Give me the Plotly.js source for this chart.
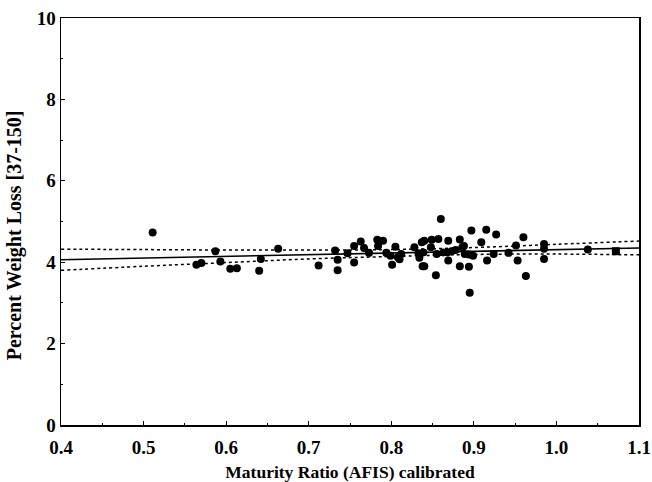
<!DOCTYPE html>
<html>
<head>
<meta charset="utf-8">
<script src="https://cdn.plot.ly/plotly-3.0.1.min.js"></script>
<style>html,body{margin:0;padding:0;background:#fff;}#chart{width:652px;height:482px;}</style>
</head>
<body>
<div id="chart"></div>
<script>
const maturity = [0.511,0.564,0.570,0.587,0.593,0.605,0.613,0.640,0.642,0.663,0.712,0.732,0.735,0.735,0.747,0.755,0.755,0.763,0.767,0.773,0.783,0.784,0.790,0.794,0.799,0.801,0.805,0.808,0.810,0.812,0.828,0.833,0.834,0.837,0.838,0.840,0.840,0.839,0.848,0.849,0.854,0.855,0.857,0.860,0.863,0.868,0.869,0.869,0.873,0.878,0.883,0.883,0.886,0.888,0.889,0.894,0.894,0.895,0.897,0.899,0.909,0.915,0.916,0.924,0.927,0.942,0.951,0.953,0.960,0.963,0.985,0.985,0.985,1.038];
const weightLoss = [4.73,3.94,3.98,4.27,4.02,3.84,3.85,3.79,4.08,4.33,3.92,4.29,4.06,3.80,4.22,4.40,3.99,4.51,4.35,4.23,4.55,4.40,4.53,4.23,4.16,3.94,4.38,4.12,4.07,4.20,4.37,4.22,4.11,4.49,3.90,4.53,3.90,4.24,4.37,4.55,3.68,4.20,4.57,5.06,4.24,4.24,4.53,4.04,4.27,4.30,4.56,3.90,4.37,4.40,4.20,4.19,3.89,3.25,4.78,4.16,4.49,4.80,4.04,4.20,4.68,4.23,4.41,4.04,4.61,3.66,4.45,4.33,4.08,4.31];
const squareX = [1.072];
const squareY = [4.27];
const fitX = [0.4, 1.1];
const fitY = [4.06, 4.35];
const bandX = [0.4, 0.5, 0.6, 0.7, 0.8, 0.9, 1.0, 1.1];
const upperY = [4.32, 4.31, 4.30, 4.30, 4.31, 4.36, 4.44, 4.52];
const lowerY = [3.80, 3.90, 3.99, 4.08, 4.14, 4.19, 4.20, 4.18];
const xTicks = [0.4, 0.5, 0.6, 0.7, 0.8, 0.9, 1.0, 1.1];
const xTickLabels = ['0.4', '0.5', '0.6', '0.7', '0.8', '0.9', '1.0', '1.1'];
const yTicks = [0, 2, 4, 6, 8, 10];
const yTickLabels = ['0', '2', '4', '6', '8', '10'];

const traces = [
  {x: bandX, y: upperY, mode: 'lines', line: {color: '#000', width: 1.5, dash: 'dot', shape: 'spline'}, hoverinfo: 'skip'},
  {x: bandX, y: lowerY, mode: 'lines', line: {color: '#000', width: 1.5, dash: 'dot', shape: 'spline'}, hoverinfo: 'skip'},
  {x: fitX, y: fitY, mode: 'lines', line: {color: '#000', width: 1.6}},
  {x: maturity, y: weightLoss, mode: 'markers', marker: {color: '#000', size: 8, symbol: 'circle'}},
  {x: squareX, y: squareY, mode: 'markers', marker: {color: '#000', size: 8, symbol: 'square'}}
];

const fam = '"Liberation Serif", "Times New Roman", serif';
const layout = {
  width: 652, height: 482,
  margin: {l: 61, r: 13, t: 18, b: 57},
  showlegend: false,
  paper_bgcolor: '#fff', plot_bgcolor: '#fff',
  font: {family: fam, color: '#000'},
  xaxis: {
    range: [0.4, 1.1], tickmode: 'array', tickvals: xTicks,
    ticktext: xTickLabels.map(t => '<b>' + t + '</b>'),
    ticklabeloverflow: 'allow', ticklabelstandoff: 5,
    ticks: 'inside', ticklen: 4, tickcolor: '#000',
    showline: true, linecolor: '#000', linewidth: 1.5, mirror: true,
    showgrid: false, zeroline: false,
    tickfont: {family: fam, size: 19, weight: 700, color: '#000'},
    minor: {dtick: 0.05, ticks: 'inside', ticklen: 2, tickcolor: '#000'},
    title: {text: '<b>Maturity Ratio (AFIS) calibrated</b>', font: {family: fam, size: 17.5, color: '#000'}, standoff: 11}
  },
  yaxis: {
    range: [0, 10], tickmode: 'array', tickvals: yTicks,
    ticktext: yTickLabels.map(t => '<b>' + t + '</b>'),
    ticklabeloverflow: 'allow',
    ticks: 'inside', ticklen: 4, tickcolor: '#000',
    showline: true, linecolor: '#000', linewidth: 1.5, mirror: true,
    showgrid: false, zeroline: false,
    tickfont: {family: fam, size: 19, weight: 700, color: '#000'},
    minor: {dtick: 1, ticks: 'inside', ticklen: 2, tickcolor: '#000'}
  },
  annotations: [{
    text: '<b>Percent Weight Loss [37-150]</b>',
    xref: 'paper', yref: 'paper', x: -0.079, y: 0.467,
    xanchor: 'center', yanchor: 'middle', textangle: -90, showarrow: false,
    font: {family: fam, size: 20, color: '#000'}
  }]
};
Plotly.newPlot('chart', traces, layout, {displayModeBar: false, staticPlot: true});
</script>
</body>
</html>
